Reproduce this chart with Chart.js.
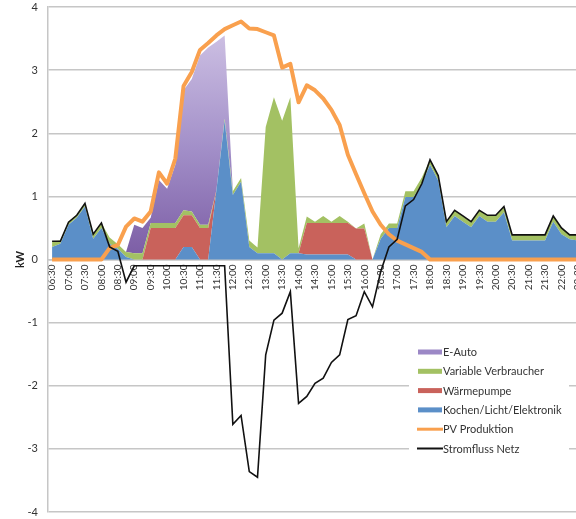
<!DOCTYPE html>
<html>
<head>
<meta charset="utf-8">
<script src="https://cdn.jsdelivr.net/npm/chart.js@4.4.1/dist/chart.umd.min.js"></script>
<style>
    html, body { margin: 0; padding: 0; overflow: hidden; background: #fff; }
    #wrap { width: 584px; height: 519px; }
</style>
</head>
<body>
<div id="wrap"><canvas id="lastgang" width="584" height="519"></canvas></div>
<script>
// Viertelstundenwerte 06:30 – 22:30, Leistung in kW

const zeiten = [
    '06:30', '06:45', '07:00', '07:15', '07:30', '07:45', '08:00', '08:15', '08:30', '08:45',
    '09:00', '09:15', '09:30', '09:45', '10:00', '10:15', '10:30', '10:45', '11:00', '11:15',
    '11:30', '11:45', '12:00', '12:15', '12:30', '12:45', '13:00', '13:15', '13:30', '13:45',
    '14:00', '14:15', '14:30', '14:45', '15:00', '15:15', '15:30', '15:45', '16:00', '16:15',
    '16:30', '16:45', '17:00', '17:15', '17:30', '17:45', '18:00', '18:15', '18:30', '18:45',
    '19:00', '19:15', '19:30', '19:45', '20:00', '20:15', '20:30', '20:45', '21:00', '21:15',
    '21:30', '21:45', '22:00', '22:15', '22:30'
];

const kochen = [
    0.20, 0.25, 0.55, 0.66, 0.84, 0.33, 0.50, 0.25, 0.17, 0.04,
    0, 0, 0, 0, 0, 0, 0.20, 0.20, 0, 0,
    1.10, 2.20, 1.02, 1.23, 0.20, 0.10, 0.10, 0.10, 0, 0.10,
    0.10, 0.08, 0.08, 0.08, 0.08, 0.08, 0.08, 0, 0, 0,
    0.33, 0.50, 0.50, 0.99, 0.99, 1.20, 1.50, 1.25, 0.51, 0.69,
    0.60, 0.51, 0.69, 0.60, 0.60, 0.75, 0.30, 0.30, 0.30, 0.30,
    0.30, 0.60, 0.40, 0.32, 0.30
];

const waermepumpe = [
    0, 0, 0, 0, 0, 0, 0, 0, 0, 0,
    0, 0, 0.50, 0.50, 0.50, 0.50, 0.50, 0.50, 0.50, 0.50,
    0, 0, 0, 0, 0, 0, 0, 0, 0, 0,
    0, 0.50, 0.50, 0.50, 0.50, 0.50, 0.50, 0.49, 0.49, 0,
    0, 0, 0, 0, 0, 0, 0, 0, 0, 0,
    0, 0, 0, 0, 0, 0, 0, 0, 0, 0,
    0, 0, 0, 0, 0
];

const variabel = [
    0.09, 0.05, 0.05, 0.05, 0.05, 0.07, 0.08, 0.10, 0.07, 0.08,
    0.10, 0.10, 0.08, 0.08, 0.08, 0.08, 0.08, 0.06, 0.05, 0.05,
    0, 0.03, 0.06, 0.06, 0.10, 0.09, 2.00, 2.47, 2.20, 2.47,
    0.08, 0.10, 0.02, 0.11, 0.02, 0.11, 0.02, 0, 0.08, 0,
    0.07, 0.07, 0.07, 0.09, 0.09, 0.10, 0.08, 0.08, 0.09, 0.09,
    0.09, 0.09, 0.09, 0.10, 0.10, 0.09, 0.09, 0.09, 0.09, 0.09,
    0.09, 0.09, 0.10, 0.07, 0.09
];

const eAuto = [
    0, 0, 0, 0, 0, 0, 0, 0, 0, 0,
    0.45, 0.40, 0.08, 0.68, 0.54, 0.92, 1.90, 2.10, 2.68, 2.81,
    2.35, 1.32, 0, 0, 0, 0, 0, 0, 0, 0,
    0, 0, 0, 0, 0, 0, 0, 0, 0, 0,
    0, 0, 0, 0, 0, 0, 0, 0, 0, 0,
    0, 0, 0, 0, 0, 0, 0, 0, 0, 0,
    0, 0, 0, 0, 0
];

const pvProduktion = [
    0, 0, 0, 0, 0, 0, 0, 0.18, 0.23, 0.52,
    0.65, 0.60, 0.76, 1.38, 1.20, 1.60, 2.75, 2.97, 3.32, 3.43,
    3.55, 3.65, 3.71, 3.77, 3.66, 3.65, 3.60, 3.55, 3.04, 3.10,
    2.49, 2.76, 2.68, 2.55, 2.37, 2.13, 1.66, 1.35, 1.05, 0.76,
    0.55, 0.40, 0.30, 0.24, 0.18, 0.12, 0, 0, 0, 0,
    0, 0, 0, 0, 0, 0, 0, 0, 0, 0,
    0, 0, 0, 0, 0
];

const stromflussNetz = [
    0.29, 0.29, 0.59, 0.70, 0.89, 0.40, 0.58, 0.20, 0.13, -0.36,
    -0.10, -0.10, -0.10, -0.10, -0.10, -0.10, -0.10, -0.10, -0.10, -0.10,
    -0.10, -0.10, -2.61, -2.47, -3.36, -3.45, -1.51, -0.96, -0.85, -0.51,
    -2.28, -2.17, -1.96, -1.88, -1.63, -1.51, -0.95, -0.89, -0.51, -0.75,
    -0.19, 0.20, 0.32, 0.85, 0.95, 1.20, 1.58, 1.33, 0.60, 0.78,
    0.69, 0.60, 0.78, 0.70, 0.70, 0.84, 0.39, 0.39, 0.39, 0.39,
    0.39, 0.69, 0.50, 0.39, 0.39
];

const FONT = 'Lato, "Liberation Sans", sans-serif';
const GRID = '#c6c6c6';

const farben = {
    kochen: '#5b8fc8',
    waerme: '#c9625b',
    variabel: '#a3c163',
    eAuto: '#9c88c6',
    pv: '#f9a04e',
    netz: '#111111'
};

// E-Auto-Fläche: von hellem Lavendel oben zu kräftigem Violett an der Nulllinie
function eAutoVerlauf(context) {
    const chart = context.chart;
    const y = chart.scales.y;
    if (!chart.chartArea || !y) return farben.eAuto;
    const oben = y.getPixelForValue(3.6);
    const unten = y.getPixelForValue(0);
    if (!isFinite(oben) || !isFinite(unten) || oben === unten) return farben.eAuto;
    const g = chart.ctx.createLinearGradient(0, oben, 0, unten);
    g.addColorStop(0, '#cdc0e3');
    g.addColorStop(0.5, '#a390c9');
    g.addColorStop(1, '#7b5ca4');
    return g;
}

// Legende als weißer Kasten im unteren rechten Diagrammbereich
const legendeImDiagramm = {
    id: 'legendeImDiagramm',
    afterDraw(chart) {
        const c = chart.ctx;
        const reihenfolge = [3, 2, 1, 0, 4, 5];
        c.save();
        c.fillStyle = '#fff';
        c.fillRect(409, 336, 160, 124);
        c.font = '11px ' + FONT;
        c.textBaseline = 'middle';
        reihenfolge.forEach((idx, k) => {
            const ds = chart.data.datasets[idx];
            const y = 352 + k * 19.3;
            if (ds.fill) {
                c.fillStyle = ds.swatch;
                c.fillRect(418, y - 2.5, 24, 5);
            } else {
                c.strokeStyle = ds.borderColor;
                c.lineWidth = ds.borderWidth > 2 ? 3 : 2;
                c.beginPath();
                c.moveTo(417, y);
                c.lineTo(443, y);
                c.stroke();
            }
            c.fillStyle = '#333';
            c.fillText(ds.label, 443, y + 0.5);
        });
        c.restore();
    }
};

const flaeche = (label, data, farbe, fill) => ({
    label, data, fill,
    backgroundColor: farbe,
    swatch: typeof farbe === 'string' ? farbe : farben.eAuto,
    borderWidth: 0,
    stack: 'verbrauch',
    order: 2
});

const chart = new Chart(document.getElementById('lastgang'), {
    type: 'line',
    data: {
        labels: zeiten,
        datasets: [
            flaeche('Kochen/Licht/Elektronik', kochen, farben.kochen, 'origin'),
            flaeche('Wärmepumpe', waermepumpe, farben.waerme, '-1'),
            flaeche('Variable Verbraucher', variabel, farben.variabel, '-1'),
            flaeche('E-Auto', eAuto, eAutoVerlauf, '-1'),
            {
                label: 'PV Produktion', data: pvProduktion, fill: false,
                borderColor: farben.pv, borderWidth: 4, borderJoinStyle: 'round',
                stack: 'pv', order: 1
            },
            {
                label: 'Stromfluss Netz', data: stromflussNetz, fill: false,
                borderColor: farben.netz, borderWidth: 1.6,
                stack: 'netz', order: 0
            }
        ]
    },
    options: {
        responsive: false,
        animation: false,
        elements: { point: { radius: 0 }, line: { tension: 0 } },
        layout: { padding: { top: 7, bottom: 7, left: 0, right: 1 } },
        plugins: {
            legend: { display: false },
            tooltip: { enabled: false }
        },
        scales: {
            x: {
                type: 'category',
                offset: true,
                position: { y: 0 },
                grid: { display: false, drawTicks: false },
                border: { display: true, color: GRID, width: 1.5 },
                ticks: {
                    autoSkip: false,
                    minRotation: 90,
                    maxRotation: 90,
                    padding: 5,
                    color: '#333',
                    font: { family: FONT, size: 10 },
                    callback: (v, i) => (i % 2 === 0 ? zeiten[i] : '')
                },
                // Achse liegt auf der Nulllinie und soll keinen Platz am Rand belegen
                afterFit: (scale) => {
                    scale.height = 0;
                    scale.paddingLeft = 0;
                    scale.paddingRight = 0;
                }
            },
            y: {
                stacked: true,
                min: -4,
                max: 4,
                grid: { color: GRID, lineWidth: 1.5, drawTicks: false },
                border: { color: GRID, width: 1.5 },
                ticks: {
                    stepSize: 1,
                    padding: 10,
                    color: '#333',
                    font: { family: FONT, size: 11 }
                },
                title: {
                    display: true,
                    text: 'kW',
                    color: '#222',
                    font: { family: FONT, size: 11, weight: 'bold' },
                    padding: { top: 14, bottom: 0 }
                },
                afterFit: (scale) => {
                    scale.width = 48;
                    scale.paddingTop = 0;
                    scale.paddingBottom = 0;
                }
            }
        }
    },
    plugins: [legendeImDiagramm]
});
// Verlauf nach dem Layout neu auflösen
chart.update();
</script>
</body>
</html>
